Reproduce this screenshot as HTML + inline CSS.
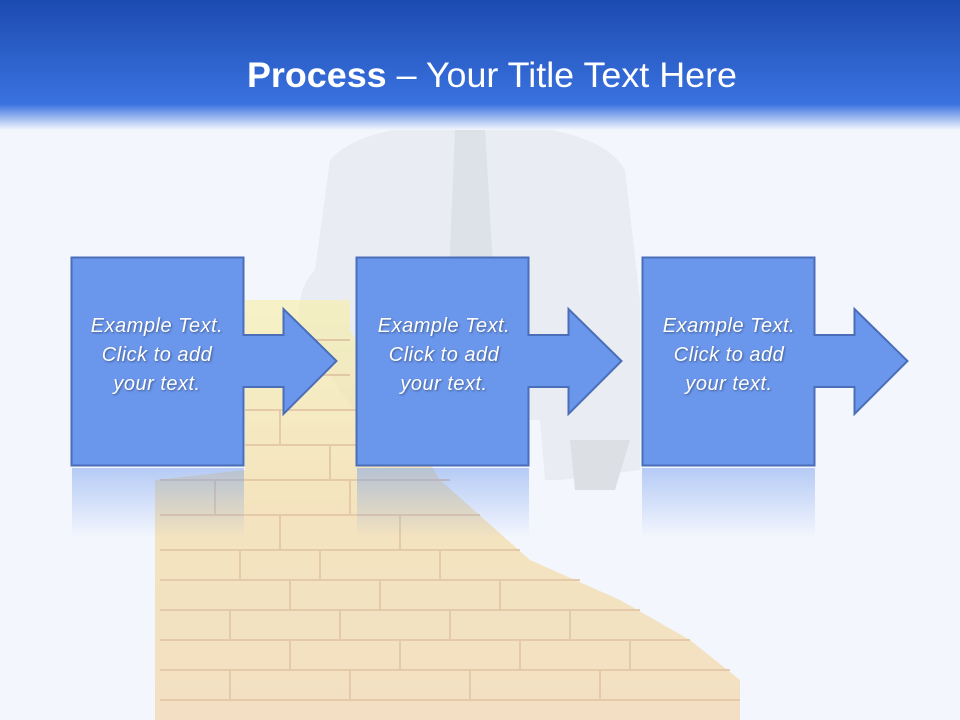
<!DOCTYPE html>
<html><head><style>
body{margin:0;width:960px;height:720px;overflow:hidden;background:#f3f6fd;font-family:"Liberation Sans",sans-serif}
</style></head><body>
<svg width="960" height="720" viewBox="0 0 960 720" xmlns="http://www.w3.org/2000/svg" style="position:absolute;left:0;top:0">
<defs>
<linearGradient id="hd" x1="0" y1="0" x2="0" y2="1">
<stop offset="0" stop-color="#1c4bb0"/><stop offset="0.8" stop-color="#3a72e0"/><stop offset="1" stop-color="#f3f6fd"/>
</linearGradient>
<linearGradient id="rf" x1="0" y1="0" x2="0" y2="1">
<stop offset="0" stop-color="#6a96ec" stop-opacity="0.45"/><stop offset="1" stop-color="#6a96ec" stop-opacity="0"/>
</linearGradient>
<linearGradient id="wf" x1="0" y1="0" x2="0" y2="1">
<stop offset="0" stop-color="#f8f0b0"/><stop offset="0.5" stop-color="#f5dca4"/><stop offset="1" stop-color="#f3d8ac"/>
</linearGradient>
<g id="call">
<path d="M0.5,0.5 H172.5 V78 H212.5 V52 L265.5,104 L212.5,157 V130 H172.5 V208.5 H0.5 Z" fill="#6a96ec" stroke="#4a6fb8" stroke-width="2"/>
</g>
</defs>
<rect width="960" height="720" fill="#f3f6fd"/>
<path d="M330,160 Q360,125 470,122 Q600,125 625,170 L640,300 L640,470 L560,480 L545,480 L540,420 L360,420 L300,330 Q295,290 315,270 Z" fill="#e9ecf2"/>
<path d="M455,130 L485,130 L495,300 L470,330 L448,300 Z" fill="#dde1e8"/>
<path d="M570,440 L630,440 L615,490 L575,490 Z" fill="#dcdfe4"/>
<g opacity="0.7">
<path d="M245,300 L350,300 L350,330 L440,480 L530,560 L620,600 L690,640 L740,680 L740,720 L155,720 L155,480 L245,470 Z" fill="url(#wf)"/>
<g stroke="#e0b888" stroke-width="2" fill="none">
<path d="M245,340 H350 M245,375 H350 M245,410 H400 M245,445 H420 M160,480 H450 M160,515 H480 M160,550 H520 M160,580 H580 M160,610 H640 M160,640 H690 M160,670 H730 M160,700 H740"/>
<path d="M280,410 V445 M330,445 V480 M215,480 V515 M280,515 V550 M350,480 V515 M400,515 V550 M240,550 V580 M320,550 V580 M440,550 V580 M290,580 V610 M380,580 V610 M500,580 V610 M230,610 V640 M340,610 V640 M450,610 V640 M570,610 V640 M290,640 V670 M400,640 V670 M520,640 V670 M630,640 V670 M230,670 V700 M350,670 V700 M470,670 V700 M600,670 V700"/>
</g>
</g>
<rect x="0" y="0" width="960" height="130" fill="url(#hd)"/>
<text x="492" y="87" text-anchor="middle" font-size="35" fill="#fff" font-family="Liberation Sans, sans-serif" textLength="490" lengthAdjust="spacingAndGlyphs"><tspan font-weight="bold">Process</tspan> – Your Title Text Here</text>
<rect x="72" y="468" width="172" height="70" fill="url(#rf)"/>
<rect x="357" y="468" width="172" height="70" fill="url(#rf)"/>
<rect x="642" y="468" width="173" height="70" fill="url(#rf)"/>
<use href="#call" x="71" y="257"/>
<use href="#call" x="356" y="257"/>
<use href="#call" x="642" y="257"/>
<g font-size="20" font-style="italic" fill="#fff" text-anchor="middle" letter-spacing="0.5" style="text-shadow:1px 1px 2px rgba(0,0,0,0.4)">
<text x="157" y="332">Example Text.</text><text x="157" y="361">Click  to add</text><text x="157" y="390">your text.</text>
<text x="444" y="332">Example Text.</text><text x="444" y="361">Click  to add</text><text x="444" y="390">your text.</text>
<text x="729" y="332">Example Text.</text><text x="729" y="361">Click  to add</text><text x="729" y="390">your text.</text>
</g>
</svg>
</body></html>
